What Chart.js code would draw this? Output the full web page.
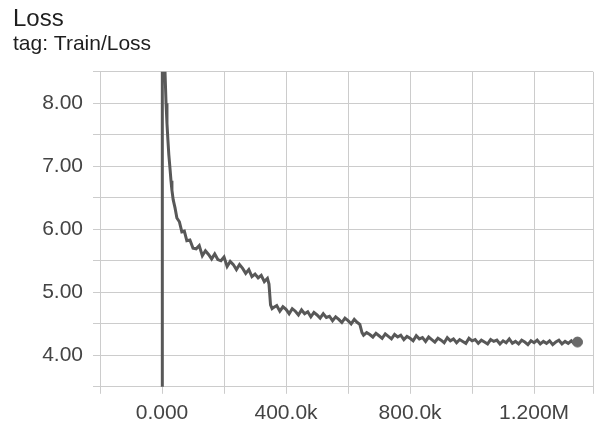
<!DOCTYPE html>
<html>
<head>
<meta charset="utf-8">
<script src="https://cdn.jsdelivr.net/npm/chart.js@4.4.1/dist/chart.umd.min.js"></script>
<style>
    html, body { margin: 0; padding: 0; background: #fff; overflow: hidden; }
    #wrap { width: 600px; height: 425px; }
    canvas { display: block; }
</style>
</head>
<body>
<div id="wrap"><canvas id="chart"></canvas></div>
<script>
// steps in thousands (k)
var stepsK = [
    0, 0, 2, 4, 7, 10, 13, 16, 19, 22, 26, 29, 32, 36, 42, 48, 56, 64, 72, 80, 90, 100,
    110, 120, 130, 140, 150, 160, 170, 180, 190, 200, 210, 220, 230, 240, 250, 260, 270, 280, 290, 300,
    310, 320, 330, 340, 345, 350, 355,
    360, 370, 380, 390, 400, 410, 420, 430, 440, 450, 460, 470, 480, 490, 500, 510, 520, 530, 540, 550,
    560, 570, 580, 590, 600, 610, 620, 630, 638, 645,
    650, 660, 670, 680, 690, 700, 710, 720, 730, 740, 750, 760, 770, 780, 790, 800, 810, 820, 830, 840,
    850, 860, 870, 880, 890, 900, 910, 920, 930, 940, 950, 960, 970, 980, 990, 1000, 1010, 1020, 1030, 1040,
    1050, 1060, 1070, 1080, 1090, 1100, 1110, 1120, 1130, 1140, 1150, 1160, 1170, 1180, 1190, 1200, 1210, 1220, 1230, 1240,
    1250, 1260, 1270, 1280, 1290, 1300, 1310, 1320, 1330, 1340
];
var trainLoss = [
    0, 14, 11.5, 10.0, 9.0, 8.45, 8.0, 7.68, 7.42, 7.18, 6.95, 6.77, 6.62, 6.47, 6.34, 6.18, 6.12, 5.96, 5.97, 5.82, 5.83, 5.70,
    5.69, 5.74, 5.58, 5.66, 5.60, 5.53, 5.61, 5.52, 5.50, 5.56, 5.41, 5.49, 5.44, 5.36, 5.44, 5.38, 5.30, 5.36, 5.25, 5.29,
    5.23, 5.27, 5.17, 5.22, 5.13, 4.80, 4.74,
    4.76, 4.79, 4.70, 4.77, 4.73, 4.66, 4.74, 4.70, 4.64, 4.72, 4.66, 4.69, 4.61, 4.68, 4.64, 4.59, 4.66, 4.60, 4.62, 4.55,
    4.61, 4.57, 4.52, 4.59, 4.55, 4.50, 4.57, 4.52, 4.49, 4.36,
    4.32, 4.36, 4.33, 4.29, 4.35, 4.31, 4.27, 4.34, 4.30, 4.26, 4.33, 4.29, 4.32, 4.25, 4.30, 4.27, 4.23, 4.31, 4.26, 4.28,
    4.22, 4.29, 4.25, 4.21, 4.27, 4.24, 4.20, 4.28, 4.23, 4.26, 4.20, 4.25, 4.22, 4.19, 4.27, 4.23, 4.25, 4.19, 4.24, 4.21,
    4.18, 4.25, 4.22, 4.24, 4.18, 4.23, 4.20, 4.26, 4.19, 4.22, 4.18, 4.24, 4.21, 4.17, 4.23, 4.20, 4.24, 4.18, 4.22, 4.19,
    4.23, 4.17, 4.21, 4.24, 4.18, 4.22, 4.19, 4.23, 4.18, 4.21
];
var yTickLabels = [4, 5, 6, 7, 8];
var xGridSteps = [-200, 0, 200, 400, 600, 800, 1000, 1200, 1390];
var xTickLabels = [0, 400, 800, 1200];

var gridColor = '#cccccc';
var lineColor = '#585858';

var points = [];
for (var i = 0; i < stepsK.length; i++) {
    points.push({ x: stepsK[i], y: trainLoss[i] });
}
var last = points.length - 1;

var formatStep = function (v) {
    if (v === 0) { return '0.000'; }
    if (v < 1000) { return v.toFixed(1) + 'k'; }
    return (v / 1000).toFixed(3) + 'M';
};

var ctx = document.getElementById('chart');
var chart = new Chart(ctx, {
    type: 'line',
    data: {
        datasets: [{
            label: 'Train/Loss',
            data: points,
            borderColor: lineColor,
            backgroundColor: lineColor,
            borderWidth: 3,
            tension: 0,
            fill: false,
            pointRadius: function (c) { return c.dataIndex === last ? 5 : 0; },
            pointBackgroundColor: '#6a6a6a',
            pointBorderColor: '#6a6a6a',
            pointBorderWidth: 1
        }]
    },
    options: {
        responsive: true,
        maintainAspectRatio: false,
        animation: false,
        layout: { padding: { left: 13, right: 6, top: 0, bottom: -8 } },
        plugins: {
            legend: { display: false },
            tooltip: { enabled: false },
            title: {
                display: true,
                text: 'Loss',
                align: 'start',
                color: '#1e1e1e',
                font: { family: 'Liberation Sans', size: 24, weight: 'normal' },
                padding: { top: 5, bottom: 0 }
            },
            subtitle: {
                display: true,
                text: 'tag: Train/Loss',
                align: 'start',
                color: '#1e1e1e',
                font: { family: 'Liberation Sans', size: 21, weight: 'normal', lineHeight: 1.0 },
                padding: { top: 0, bottom: 17 }
            }
        },
        scales: {
            x: {
                type: 'linear',
                min: -200,
                max: 1390,
                afterBuildTicks: function (s) {
                    s.ticks = xGridSteps.map(function (v) { return { value: v }; });
                },
                grid: { color: gridColor, tickLength: 7, tickColor: gridColor },
                border: { color: gridColor },
                ticks: {
                    padding: 7,
                    maxRotation: 0,
                    minRotation: 0,
                    autoSkip: false,
                    color: '#444',
                    font: { family: 'Liberation Sans', size: 21 },
                    callback: function (v) {
                        return xTickLabels.indexOf(Math.round(v)) >= 0 ? formatStep(Math.round(v)) : '';
                    }
                }
            },
            y: {
                min: 3.5,
                max: 8.5,
                afterFit: function (s) { s.width = 87; },
                grid: { color: gridColor, tickLength: 7, tickColor: gridColor },
                border: { color: gridColor },
                ticks: {
                    stepSize: 0.5,
                    padding: 10,
                    autoSkip: false,
                    color: '#444',
                    font: { family: 'Liberation Sans', size: 21 },
                    callback: function (v) {
                        return yTickLabels.indexOf(v) >= 0 ? v.toFixed(2) : '';
                    }
                }
            }
        }
    }
});
</script>
</body>
</html>
